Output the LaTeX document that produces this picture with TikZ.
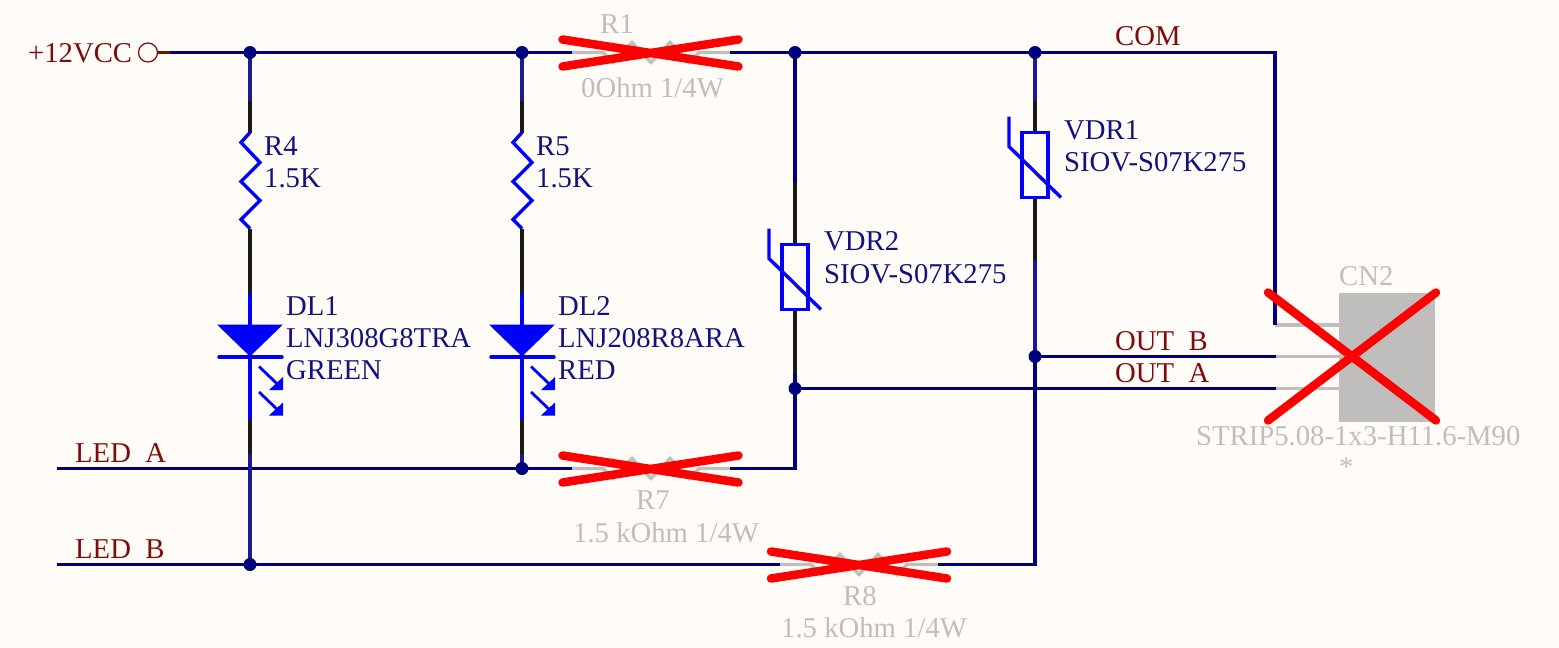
\documentclass[tikz,border=0pt]{standalone}
\usepackage{fontspec}
\setmainfont{Liberation Serif}
\definecolor{bg}{HTML}{FFFCF8}
\definecolor{wirec}{HTML}{00007F}
\definecolor{wirel}{HTML}{1A1A99}
\definecolor{compc}{HTML}{0000FF}
\definecolor{txtb}{HTML}{12127F}
\definecolor{txtr}{HTML}{7F0A0A}
\definecolor{greyc}{HTML}{C0BEBC}
\newcommand{\lowus}{\raisebox{-2.6pt}{\_}}
\tikzset{
  x=1pt,y=-1pt,
  wire/.style={draw=wirec,line width=3.4pt},
  pinb/.style={draw=black!90,line width=3.4pt},
  pinl/.style={draw=wirel,line width=3.4pt},
  comp/.style={draw=compc,line width=3.4pt},
  gpin/.style={draw=greyc,line width=3.4pt},
  crossx/.style={draw=red,line width=8.5pt,line cap=round},
  dot/.style={circle,fill=wirec,inner sep=0pt,minimum size=13pt},
  lab/.style={anchor=base west,inner sep=0pt,font=\fontsize{28.7pt}{28.7pt}\selectfont},
  nblue/.style={lab,text=txtb},
  nred/.style={lab,text=txtr},
  ngrey/.style={lab,text=greyc},
}
\newcommand{\vzig}[2]{% x, top y
  \draw[comp,line join=miter] (#1,#2) -- ++(-9,10) -- ++(19,20) -- ++(-19,19) -- ++(19,19) -- ++(-19,19) -- ++(9,9);}
\newcommand{\hzigx}[3]{% name, centre x, y
  \coordinate (#1l) at (#2-79,#3);
  \coordinate (#1r) at (#2+79,#3);
  \draw[gpin] (#1l) -- ++(31,0) -- ++(10,10) -- ++(19,-20) -- ++(19,20) -- ++(19,-20) -- ++(19,20) -- ++(10,-10) -- (#1r);}
\newcommand{\redx}[2]{% centre
  \draw[crossx] (#1-88,#2-13.5) -- (#1+88,#2+13.5);
  \draw[crossx] (#1-88,#2+13.5) -- (#1+88,#2-13.5);}
\newcommand{\led}[1]{% x
  \fill[compc] (#1-33,324) -- (#1+33,324) -- (#1,356) -- cycle;
  \draw[comp,line cap=round] (#1-31,356.5) -- (#1+32,356.5);
  \foreach \d in {0,25.5}{
    \draw[comp,line width=2.8pt] (#1+9,366+\d) -- (#1+31,387+\d);
    \fill[compc] (#1+33,376.5+\d) -- (#1+33,389.5+\d) -- (#1+19,389.5+\d) -- cycle;
  }}
\newcommand{\vdr}[3]{% x, box top, box bottom
  \draw[comp] (#1-13,#2) rectangle (#1+13,#3);
  \draw[comp,line join=miter] (#1-26,#2-16) -- (#1-26,#2+14) -- (#1+26,#3);}
\begin{document}
\begin{tikzpicture}
\useasboundingbox[fill=bg] (0,-0.5) rectangle (1559,647.5);
% labels (under the wires, which hide the underscores)
\node[nred] (tvcc) at (28,62) {+12VCC};
\node[nred] (tcom) at (1115,45) {COM};
\node[nred] (toutb) at (1115,350) {OUT\lowus B};
\node[nred] (touta) at (1115,382) {OUT\lowus A};
\node[nred] (tleda) at (75,462) {LED\lowus A};
\node[nred] (tledb) at (75,558) {LED\lowus B};
\node[nblue] (tr4) at (264,155) {R4};
\node[nblue] (tr4v) at (264,187) {1.5K};
\node[nblue] (tr5) at (536,155) {R5};
\node[nblue] (tr5v) at (536,187) {1.5K};
\node[nblue] (td1) at (286,315) {DL1};
\node[nblue] (td1p) at (286,347) {LNJ308G8TRA};
\node[nblue] (td1c) at (286,379) {GREEN};
\node[nblue] (td2) at (558,315) {DL2};
\node[nblue] (td2p) at (558,347) {LNJ208R8ARA};
\node[nblue] (td2c) at (558,379) {RED};
\node[nblue] (tv2) at (824,250) {VDR2};
\node[nblue] (tv2p) at (824,283) {SIOV-S07K275};
\node[nblue] (tv1) at (1064,139) {VDR1};
\node[nblue] (tv1p) at (1064,171) {SIOV-S07K275};
\node[ngrey] (tr1) at (600,33) {R1};
\node[ngrey] (tr1v) at (581,97) {0Ohm 1/4W};
\node[ngrey] (tr7) at (636,509) {R7};
\node[ngrey] (tr7v) at (573,542) {1.5 kOhm 1/4W};
\node[ngrey] (tr8) at (843,605) {R8};
\node[ngrey] (tr8v) at (781,637) {1.5 kOhm 1/4W};
\node[ngrey] (tcn) at (1339,285) {CN2};
\node[ngrey] (tst) at (1196,445) {STRIP5.08-1x3-H11.6-M90};
\node[ngrey] (tstar) at (1339,476) {*};
% named points
\node[circle,draw=txtr,line width=1.2pt,inner sep=0pt,minimum size=19pt] (vccp) at (148,52) {};
\coordinate (vccw) at (170,52);
\coordinate (led1) at (57,468);
\coordinate (led2) at (57,564);
\coordinate (j1) at (250,52);
\coordinate (j2) at (522,52);
\coordinate (j3) at (795,52);
\coordinate (j4) at (1035,52);
\coordinate (j5) at (522,468);
\coordinate (j6) at (250,564);
\coordinate (j7) at (795,388);
\coordinate (j8) at (1035,356);
\coordinate (c1) at (1275,324.5);
\coordinate (c2) at (1276,356);
\coordinate (c3) at (1276,388);
\coordinate (c1e) at (1339,324.5);
\coordinate (c2e) at (1339,356);
\coordinate (c3e) at (1339,388);
\coordinate (corner) at (1275,52);
\coordinate (r7c) at (795,468);
\coordinate (r8c) at (1035,564);
% resistors and connector body
\hzigx{ra}{651}{52}
\hzigx{rb}{651}{468}
\hzigx{rc}{859}{564}
\fill[greyc] (1339,292) rectangle (1435,421);
\draw[gpin] (c1) -- (c1e);
\draw[gpin] (c2) -- (c2e);
\draw[gpin] (c3) -- (c3e);
% horizontal wires
\draw[draw=txtr,line width=3.4pt] (vccp) -- (vccw);
\draw[wire] (vccw) -- (j1) -- (j2) -- (ral);
\draw[wire,line join=miter] (rar) -- (j3) -- (j4) -- (corner) -- (c1);
\draw[wire] (led1) -- (j5) -- (rbl);
\draw[wire,line join=miter] (rbr) -- (r7c) -- (j7);
\draw[wire] (led2) -- (j6) -- (rcl);
\draw[wire,line join=miter] (rcr) -- (r8c) -- (j8);
\draw[wire] (j8) -- (c2);
\draw[wire] (j7) -- (c3);
% column at x=250
\draw[pinl] (j1) -- (250,100);
\draw[pinb] (250,100) -- (250,132);
\vzig{250}{132}
\draw[pinb] (250,228) -- (250,293);
\draw[comp] (250,293) -- (250,419);
\draw[pinb] (250,419) -- (250,453);
\draw[pinl] (250,453) -- (j6);
\led{250}
% column at x=522
\draw[pinl] (j2) -- (522,100);
\draw[pinb] (522,100) -- (522,132);
\vzig{522}{132}
\draw[pinb] (522,228) -- (522,293);
\draw[comp] (522,293) -- (522,419);
\draw[pinb] (522,419) -- (522,453);
\draw[pinl] (522,453) -- (j5);
\led{522}
% column at x=795
\draw[wire] (j3) -- (795,181);
\draw[pinb] (795,181) -- (795,244);
\draw[pinb] (795,309) -- (795,373);
\draw[wire] (795,373) -- (j7);
\vdr{795}{244}{309}
% column at x=1035
\draw[pinl] (j4) -- (1035,100);
\draw[pinb] (1035,100) -- (1035,132);
\draw[pinb] (1035,197) -- (1035,260);
\draw[pinl] (1035,260) -- (j8);
\vdr{1035}{132}{197}
% junction dots
\node[dot] (d1) at (j1) {};
\node[dot] (d2) at (j2) {};
\node[dot] (d3) at (j3) {};
\node[dot] (d4) at (j4) {};
\node[dot] (d5) at (j5) {};
\node[dot] (d6) at (j6) {};
\node[dot] (d7) at (j7) {};
\node[dot] (d8) at (j8) {};
% red crosses
\redx{650.5}{52.5}
\redx{650.5}{468.5}
\redx{859}{564.5}
\draw[crossx] (1268,292) -- (1436,420);
\draw[crossx] (1436,292) -- (1268,420);
\end{tikzpicture}
\end{document}
